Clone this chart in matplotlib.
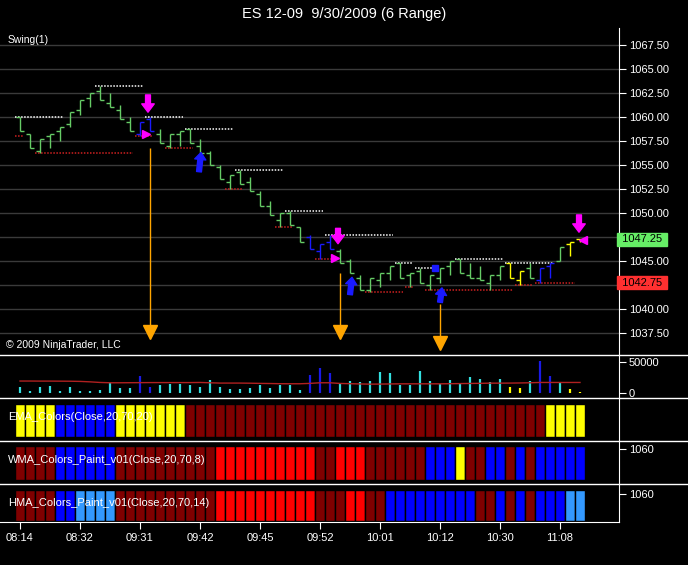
import matplotlib
matplotlib.use('Agg')
import matplotlib.pyplot as plt
from matplotlib.lines import Line2D

plt.rcParams['font.family'] = ['Liberation Sans', 'DejaVu Sans']

W, H = 688, 565

title = 'ES 12-09  9/30/2009 (6 Range)'
times = ['08:14', '08:32', '09:31', '09:42', '09:45', '09:52', '10:01', '10:12', '10:30', '11:08']
time_bars = [0, 6, 12, 18, 24, 30, 36, 42, 48, 54]

# 6 tick range bars
opens = [1060.0, 1058.25, 1056.5, 1058.0, 1058.5, 1059.25, 1060.75, 1062.0, 1062.75, 1061.5,
         1060.75, 1059.5, 1058.25, 1059.75, 1058.25, 1057.0, 1058.25, 1058.75, 1057.0, 1056.25,
         1054.75, 1053.25, 1054.25, 1053.25, 1052.0, 1050.75, 1049.25, 1050.0, 1048.5, 1047.5,
         1046.0, 1047.0, 1046.0, 1045.0, 1043.25, 1042.0, 1043.0, 1043.75, 1044.75, 1043.5,
         1044.0, 1042.5, 1043.25, 1044.5, 1045.25, 1043.5, 1043.25, 1042.75, 1043.5, 1044.75,
         1043.0, 1044.25, 1043.0, 1044.5, 1045.0, 1046.75, 1047.25]
highs = [1060.0, 1058.25, 1057.75, 1058.25, 1059.0, 1060.5, 1061.75, 1062.5, 1063.25, 1062.5,
         1061.25, 1060.0, 1059.5, 1060.0, 1058.75, 1058.25, 1058.5, 1058.75, 1057.75, 1056.5,
         1055.0, 1054.0, 1054.5, 1053.75, 1052.25, 1051.25, 1050.0, 1050.25, 1048.5, 1047.75,
         1046.75, 1047.75, 1046.25, 1045.25, 1043.5, 1043.25, 1043.75, 1044.5, 1044.75, 1043.75,
         1044.25, 1043.5, 1044.25, 1045.0, 1045.25, 1044.75, 1044.5, 1043.5, 1044.5, 1044.75,
         1044.0, 1044.75, 1044.25, 1044.75, 1046.5, 1047.0, 1047.25]
lows = [1058.5, 1056.75, 1056.25, 1056.75, 1057.5, 1059.0, 1060.25, 1061.0, 1061.75, 1061.0,
        1059.75, 1058.5, 1058.0, 1058.5, 1057.25, 1056.75, 1057.0, 1057.25, 1056.25, 1055.0,
        1053.5, 1052.5, 1053.0, 1052.25, 1050.75, 1049.75, 1048.5, 1048.75, 1047.0, 1046.25,
        1045.25, 1046.25, 1044.75, 1043.75, 1042.0, 1041.75, 1042.25, 1043.0, 1043.25, 1042.25,
        1042.75, 1042.0, 1042.75, 1043.5, 1043.75, 1043.25, 1043.0, 1042.0, 1043.0, 1043.25,
        1042.5, 1043.25, 1042.75, 1043.25, 1045.0, 1045.5, 1047.0]
closes = [1058.5, 1056.75, 1057.75, 1058.25, 1059.0, 1060.5, 1061.75, 1062.5, 1061.75, 1061.0,
          1059.75, 1058.5, 1059.5, 1058.5, 1057.25, 1058.25, 1058.5, 1057.25, 1056.25, 1055.0,
          1053.5, 1054.0, 1053.0, 1052.25, 1050.75, 1049.75, 1050.0, 1048.75, 1047.0, 1046.25,
          1046.75, 1046.25, 1044.75, 1043.75, 1042.0, 1043.25, 1043.75, 1044.5, 1043.25, 1043.75,
          1042.75, 1043.5, 1044.25, 1045.0, 1043.75, 1043.25, 1043.0, 1043.5, 1044.5, 1043.25,
          1044.0, 1043.25, 1044.25, 1044.75, 1046.5, 1047.0, 1047.25]
# g = normal, b = blue, y = yellow (price bar and volume colour)
bar_colors = 'ggggggggggggbbgggggggggggggggbbbgggggggggggggggggyygbbgyy'

volume = [10000, 4000, 10000, 12000, 4000, 10000, 4000, 4000, 5000, 16000,
          8000, 8000, 28000, 10000, 13000, 14000, 14000, 13000, 9000, 21000,
          10000, 6000, 6000, 8000, 13000, 8000, 13000, 13000, 5000, 29000,
          40000, 33000, 15000, 19000, 18000, 19000, 34000, 32000, 13000, 13000,
          36000, 19000, 14000, 21000, 16000, 26000, 22500, 17500, 22500, 9000,
          8000, 19000, 52000, 28000, 17500, 6000, 1000]
volume_avg = [19300, 19300, 19200, 19200, 19100, 19000, 18700, 18000, 17000, 16500,
              16500, 16600, 16700, 16800, 16800, 16800, 16800, 16800, 17000, 16500,
              16000, 16000, 16000, 15800, 15500, 15300, 15000, 14900, 14900, 15500,
              16500, 16500, 15400, 15000, 14600, 14300, 14400, 14600, 14800, 14800,
              14800, 14800, 14800, 15000, 15200, 15400, 15600, 15900, 15900, 16000,
              16200, 16500, 17000, 17000, 17000, 17000, 17000]

# D = dark red, R = red, B = blue, L = light blue, Y = yellow
ema_colors = 'YYYYBBBBBBYYYYYYYDDDDDDDDDDDDDDDDDDDDDDDDDDDDDDDDDDDDYYYY'
wma_colors = 'DDDDBBBBBBDDDDDDDDDDRRRRRRRRRRDDRRRDDDDDDBBBYDDBBDBDBBBBB'
hma_colors = 'DDDDBBLLLLDDDDDDDDDDRRRRRRRRRRDDDRRDDBBBBBBBBBDDBDBDBBBLL'

# Swing(1): start bar, end bar, price
hi_start = [-0.5, 7.5, 12.5, 16.5, 21.5, 26.5, 30.5, 37.5, 39.5, 43.5, 48.5]
hi_end = [4.3, 12.3, 16.3, 21.3, 26.3, 30.3, 37.3, 39.3, 41.3, 48.3, 53.3]
hi_price = [1060.0, 1063.25, 1060.0, 1058.75, 1054.5, 1050.25, 1047.75, 1044.75, 1044.25, 1045.25, 1044.75]
lo_start = [-0.5, 1.5, 11.5, 14.5, 20.5, 25.5, 29.5, 34.5, 38.5, 40.5, 49.5, 51.5]
lo_end = [0.3, 11.3, 13.3, 17.3, 22.3, 27.3, 31.3, 38.3, 39.3, 49.3, 51.3, 55.5]
lo_price = [1058.0, 1056.25, 1058.0, 1056.75, 1052.5, 1048.5, 1045.25, 1041.75, 1042.25, 1042.0, 1042.5, 1042.75]

# signal markers
sig_bar = [13, 32, 42]
sig_top = [1056.75, 1043.75, 1040.5]
sig_target = [1037.6, 1037.6, 1036.5]
sell_x = [12.8, 31.8, 55.9]
sell_tail = [1062.3, 1048.4, 1049.8]
sell_tip = [1060.5, 1046.8, 1048.0]
buy_x = [17.9, 33.0, 42.0]
buy_tail = [1054.3, 1041.5, 1040.7]
buy_tip = [1056.3, 1043.3, 1042.2]
tri_x = [12.6, 31.5, 56.3]
tri_y = [1058.25, 1045.3, 1047.2]
tri_mark = ['>', '>', '<']

last_price = 1047.25
last_swing_low = 1042.75

price_col = {'g': '#66cc66', 'b': '#1a1aff', 'y': '#ffff00'}
vol_col = {'g': '#33e0e0', 'b': '#1a1ae6', 'y': '#ffff00'}
panel_col = {'D': '#800000', 'R': '#ff0000', 'B': '#0000ff', 'L': '#3399ff', 'Y': '#ffff00'}

AXR = 619
XLIM = (-2, (AXR - 20) / 10.0)

fig = plt.figure(figsize=(W / 100.0, H / 100.0), dpi=100, facecolor='black')


def panel(top, bottom):
    a = fig.add_axes([0, 1 - bottom / H, AXR / W, (bottom - top) / H])
    a.set_facecolor('black')
    a.set_xlim(*XLIM)
    for s in ['left', 'top', 'bottom']:
        a.spines[s].set_visible(False)
    a.spines['right'].set_color('white')
    a.yaxis.tick_right()
    a.tick_params(axis='y', colors='white', labelsize=8, length=5, pad=2)
    a.set_xticks([])
    return a


# price panel
ax = panel(28, 355)
ax.set_ylim(1067.5 - 310 / 9.6, 1067.5 + 17 / 9.6)
levels = [1037.5 + 2.5 * k for k in range(13)]
ax.set_yticks(levels)
# labels under the two price boxes are hidden, as in NinjaTrader
ax.set_yticklabels(['' if abs(v - last_price) < 1 or abs(v - last_swing_low) < 1 else '%.2f' % v
                    for v in levels])
ax.grid(axis='y', color='#3a3a3a', lw=1)
ax.set_axisbelow(True)

ax.hlines(hi_price, hi_start, hi_end, colors='white', linestyles=(0, (1, 1)), lw=1.1)
ax.hlines(lo_price, lo_start, lo_end, colors='#cc2020', linestyles=(0, (1, 1)), lw=1.1)

for i in range(len(opens)):
    c = price_col[bar_colors[i]]
    ax.vlines(i, lows[i], highs[i], color=c, lw=1)
    ax.hlines(opens[i], i - 0.4, i, color=c, lw=1)
    ax.hlines(closes[i], i, i + 0.4, color=c, lw=1)

for k in range(len(sig_bar)):
    ax.vlines(sig_bar[k], sig_target[k] + 0.6, sig_top[k], color='#ffa500', lw=1)
    ax.plot(sig_bar[k], sig_target[k], marker='v', color='#ffa500', ms=10, mec='#ffa500')
    ax.annotate('', xy=(sell_x[k], sell_tip[k]), xytext=(sell_x[k], sell_tail[k]),
                arrowprops=dict(color='#ff00ff', width=3.5, headwidth=9, headlength=6, shrink=0))
    ax.annotate('', xy=(buy_x[k] + 0.2, buy_tip[k]), xytext=(buy_x[k], buy_tail[k]),
                arrowprops=dict(color='#1a1aff', width=3.5, headwidth=8, headlength=5, shrink=0))
    ax.plot(tri_x[k], tri_y[k], marker=tri_mark[k], color='#ff00ff', ms=6, mec='#ff00ff')
ax.plot(41.5, 1044.25, marker='s', color='#1a1aff', ms=4)

ax.text(1.0, last_price, ' %.2f ' % last_price, transform=ax.get_yaxis_transform(),
        fontsize=8, color='black', va='center', ha='left', clip_on=False,
        bbox=dict(boxstyle='square,pad=0.15', fc='#66ee66', ec='#66ee66'))
ax.text(1.0, last_swing_low, ' %.2f ' % last_swing_low, transform=ax.get_yaxis_transform(),
        fontsize=8, color='black', va='center', ha='left', clip_on=False,
        bbox=dict(boxstyle='square,pad=0.15', fc='#ff3030', ec='#ff3030'))
ax.text(8 / AXR, 1 - 12 / 327.0, 'Swing(1)', transform=ax.transAxes, color='white', fontsize=7.5, va='center')
ax.text(6 / AXR, 10 / 327.0, '\u00a9 2009 NinjaTrader, LLC', transform=ax.transAxes, color='white',
        fontsize=7.5, va='center')

# volume panel
axv = panel(355, 398)
axv.set_ylim(-(398 - 393) / 31.0 * 50000, (393 - 355) / 31.0 * 50000)
axv.set_yticks([0, 50000])
axv.set_yticklabels(['0', '50000'])
xs = list(range(len(volume)))
axv.vlines(xs, 0, volume, colors=[vol_col[c] for c in bar_colors], lw=1.6)
axv.plot(xs, volume_avg, color='#b02020', lw=1)

# colour panels
rows = [(398, 441, ema_colors, 'EMA_Colors(Close,20,70,20)', 0.093, 0.860, None),
        (441, 484, wma_colors, 'WMA_Colors_Paint_v01(Close,20,70,8)', 0.093, 0.884, 0.81),
        (484, 522, hma_colors, 'HMA_Colors_Paint_v01(Close,20,70,14)', 0.026, 0.842, 0.74)]
axes = []
for top, bottom, cols, name, b0, b1, tk in rows:
    a = panel(top, bottom)
    a.set_ylim(0, 1)
    a.bar(range(len(cols)), b1 - b0, bottom=b0, width=1.0,
          color=[panel_col[c] for c in cols], edgecolor='black', lw=1.0)
    a.text(8 / AXR, 1 - 19.0 / (bottom - top), name,
           transform=a.transAxes, color='white', fontsize=8, va='center', zorder=5)
    if tk is None:
        a.set_yticks([])
    else:
        a.set_yticks([tk])
        a.set_yticklabels(['1060'])
    axes.append(a)

axh = axes[-1]
axh.spines['bottom'].set_visible(True)
axh.spines['bottom'].set_color('white')
axh.set_xticks(time_bars)
axh.set_xticklabels(times)
axh.tick_params(axis='x', colors='white', labelsize=8, length=5, pad=3)

for yy in [355, 398, 441, 484]:
    fig.add_artist(Line2D([0, 1], [1 - yy / H, 1 - yy / H], transform=fig.transFigure, color='white', lw=1))

fig.text(344 / W, 1 - 14 / H, title, color='white', fontsize=10.5, ha='center', va='center')

fig.savefig('out.png', dpi=100, facecolor='black')
